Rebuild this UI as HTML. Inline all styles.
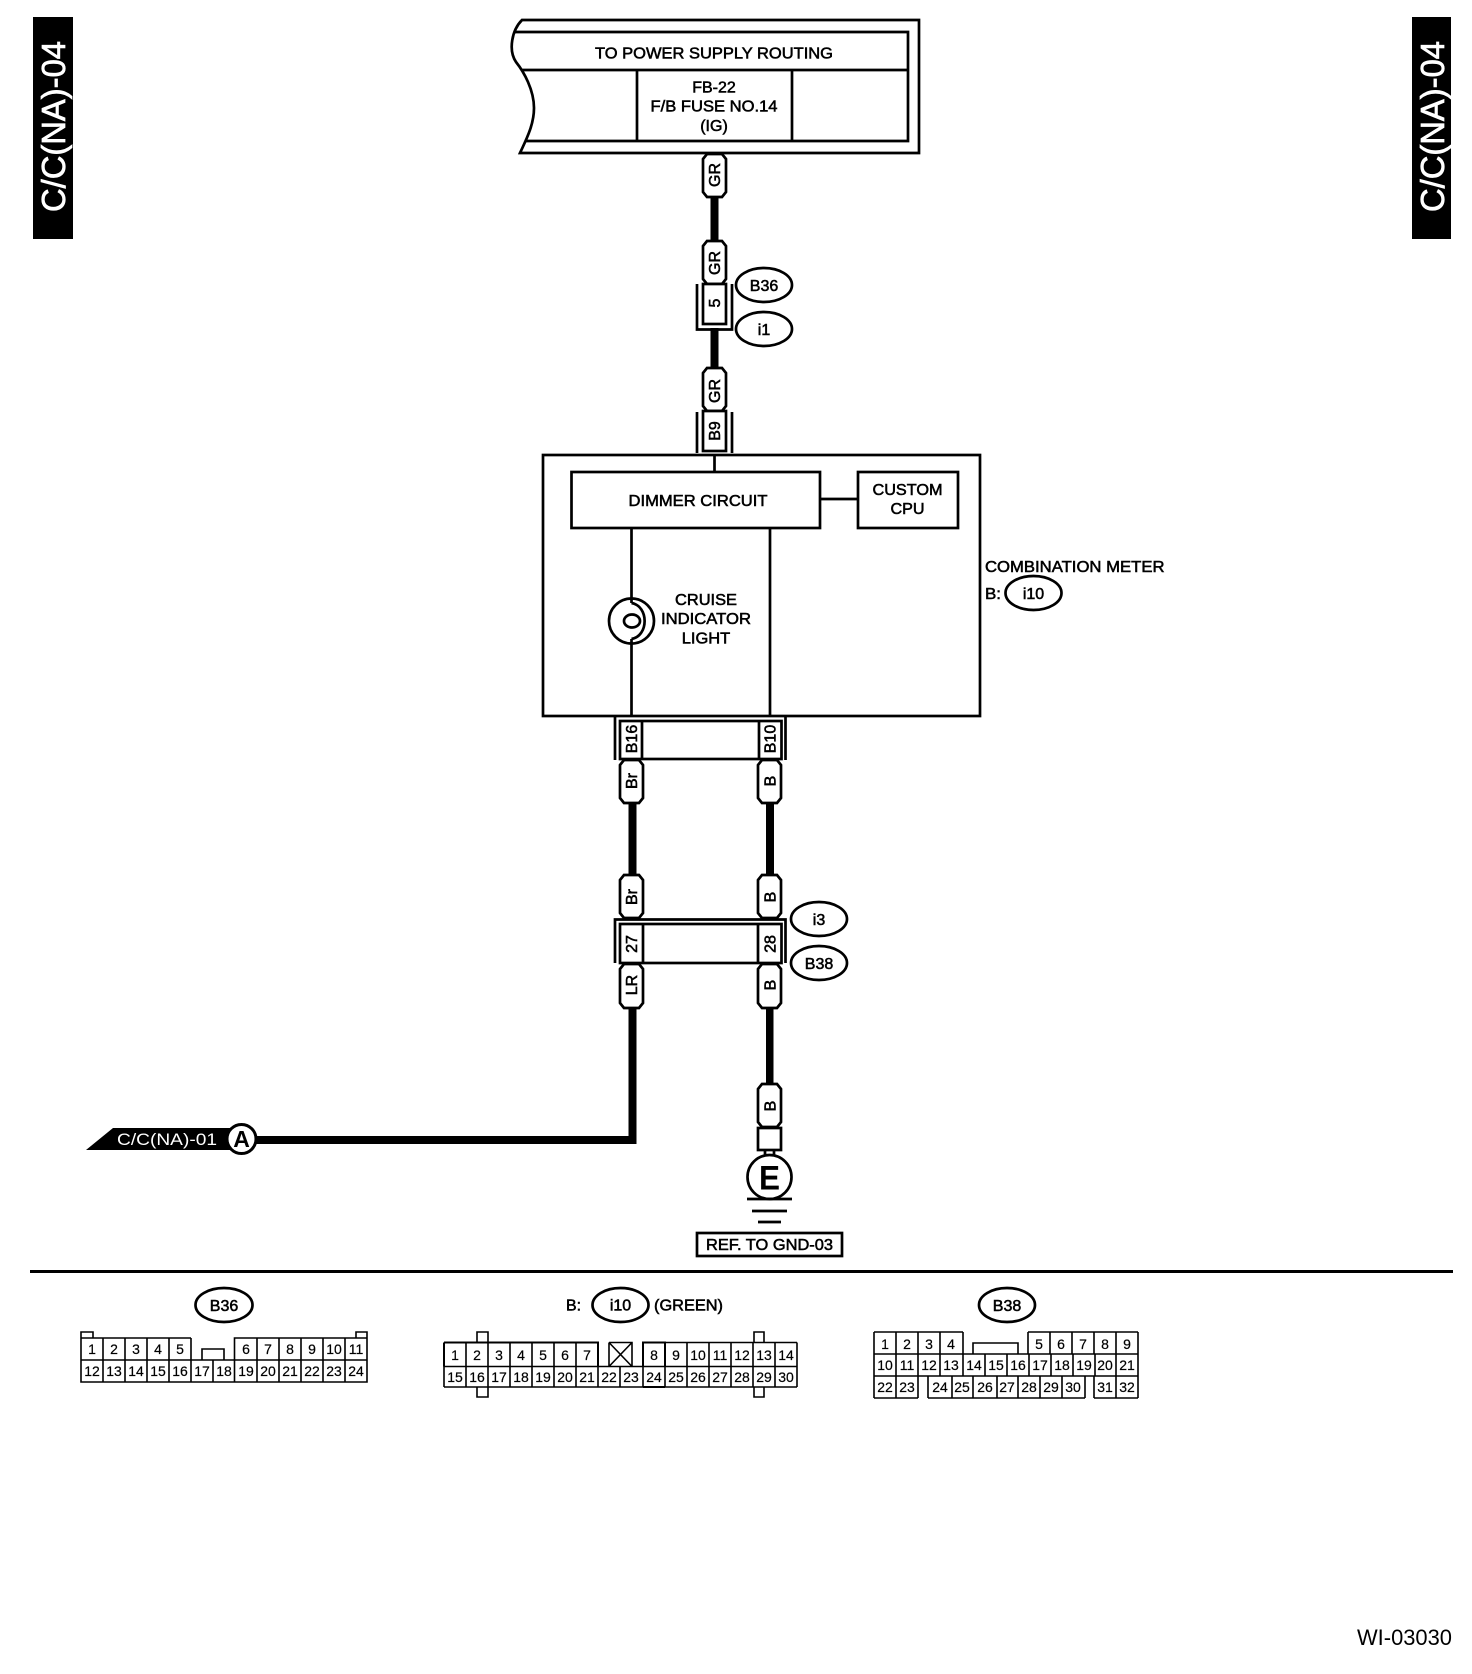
<!DOCTYPE html>
<html lang="en">
<head>
<meta charset="utf-8">
<title>C/C(NA)-04 wiring diagram</title>
<style>
html,body{margin:0;padding:0;background:#fff}
svg{display:block}
text{font-family:"Liberation Sans",sans-serif;fill:#000}
.l{font-size:16px;text-anchor:middle;stroke:#000;stroke-width:.55}
.n{font-size:14px;text-anchor:middle;stroke:#000;stroke-width:.2}
.s{fill:#fff;stroke:#000;stroke-width:2.7}
.o{fill:none;stroke:#000;stroke-width:2.7}
.g{fill:none;stroke:#000;stroke-width:1.6}
</style>
</head>
<body>
<svg xmlns="http://www.w3.org/2000/svg" width="1472" height="1674" viewBox="0 0 1472 1674">
<rect width="1472" height="1674" fill="#fff"/>

<!-- side tabs -->
<rect x="33" y="17" width="40" height="222" fill="#000"/>
<text transform="translate(65,212) rotate(-90)" textLength="171" lengthAdjust="spacingAndGlyphs" style="font-size:33px;fill:#fff;stroke:#fff;stroke-width:.7">C/C(NA)-04</text>
<rect x="1412" y="17" width="39" height="222" fill="#000"/>
<text transform="translate(1444,212) rotate(-90)" textLength="171" lengthAdjust="spacingAndGlyphs" style="font-size:33px;fill:#fff;stroke:#fff;stroke-width:.7">C/C(NA)-04</text>

<!-- power supply box -->
<path class="o" d="M919 20 L522 20 C512 30 508 50 516 62 C524 72 534 90 534 108 C534 125 526 140 520 153 L919 153 Z" stroke-width="3"/>
<path class="o" d="M514 32 H908 V141 H526 M522 70 H908 M637 70 V141 M792 70 V141"/>
<text class="l" x="714" y="58.500" textLength="238" lengthAdjust="spacingAndGlyphs">TO POWER SUPPLY ROUTING</text>
<text class="l" x="714" y="92.500">FB-22</text>
<text class="l" x="714" y="111.500" textLength="127" lengthAdjust="spacingAndGlyphs">F/B FUSE NO.14</text>
<text class="l" x="714" y="131">(IG)</text>

<!-- upper wires -->
<rect x="710.500" y="195" width="8" height="48" fill="#000"/>
<rect x="710.500" y="328" width="8" height="41" fill="#000"/>
<path class="s" d="M707 154 H722 L726 159 V192 L722 197 H707 L703 192 V159 Z"/>
<text class="l" transform="translate(720,175) rotate(-90)">GR</text>
<path class="s" d="M707 241 H722 L726 246 V279 L722 284 H707 L703 279 V246 Z"/>
<text class="l" transform="translate(720,263) rotate(-90)">GR</text>
<rect class="s" x="703" y="284" width="23" height="40"/>
<path class="o" d="M697 284 V329.500 H732 V284"/>
<text class="l" transform="translate(720,303) rotate(-90)">5</text>
<path class="s" d="M707 368 H722 L726 373 V406 L722 411 H707 L703 406 V373 Z"/>
<text class="l" transform="translate(720,391) rotate(-90)">GR</text>
<rect class="s" x="703" y="411" width="23" height="40"/>
<path class="o" d="M697 412 V453 M732 412 V453"/>
<text class="l" transform="translate(720,431) rotate(-90)">B9</text>
<ellipse class="o" cx="764" cy="285" rx="28" ry="17"/>
<text class="l" x="764" y="291">B36</text>
<ellipse class="o" cx="764" cy="329" rx="28" ry="17"/>
<text class="l" x="764" y="335">i1</text>

<!-- combination meter -->
<rect class="o" x="543" y="455" width="437" height="261"/>
<path class="o" d="M714.500 455 V472 M820 499 H858 M631.500 528 V603 M631.500 639 V716 M770 528 V716"/>
<rect class="o" x="571.500" y="472" width="248.500" height="56"/>
<rect class="o" x="858" y="472" width="100" height="56"/>
<text class="l" x="698" y="506" textLength="139" lengthAdjust="spacingAndGlyphs">DIMMER CIRCUIT</text>
<text class="l" x="907.500" y="495" textLength="70" lengthAdjust="spacingAndGlyphs">CUSTOM</text>
<text class="l" x="907.500" y="514" textLength="34" lengthAdjust="spacingAndGlyphs">CPU</text>
<text class="l" x="706" y="605" textLength="62" lengthAdjust="spacingAndGlyphs">CRUISE</text>
<text class="l" x="706" y="624" textLength="90" lengthAdjust="spacingAndGlyphs">INDICATOR</text>
<text class="l" x="706" y="643.500" textLength="48.500" lengthAdjust="spacingAndGlyphs">LIGHT</text>
<circle class="o" cx="631.500" cy="621" r="22.500"/>
<path class="o" d="M631.500 603 C649 606 649 636 631.500 639"/>
<ellipse class="o" cx="632" cy="621" rx="8" ry="6.500"/>
<text class="l" x="985" y="572" style="text-anchor:start" textLength="179.500" lengthAdjust="spacingAndGlyphs">COMBINATION METER</text>
<text class="l" x="985" y="599" style="text-anchor:start" textLength="16" lengthAdjust="spacingAndGlyphs">B:</text>
<ellipse class="o" cx="1033.500" cy="593" rx="28" ry="17"/>
<text class="l" x="1033.500" y="599">i10</text>

<!-- B16 / B10 connector -->
<path class="o" d="M615 717 V760 M785.500 717 V760"/>
<rect class="o" x="620" y="721" width="161.500" height="38"/>
<path class="o" d="M642 721 V759 M759 721 V759"/>
<text class="l" transform="translate(637,739) rotate(-90)">B16</text>
<text class="l" transform="translate(775.500,739) rotate(-90)">B10</text>

<!-- middle wires -->
<rect x="628.500" y="801" width="8" height="76" fill="#000"/>
<rect x="766" y="801" width="8" height="76" fill="#000"/>
<path class="s" d="M624 760 H639 L643 765 V798 L639 803 H624 L620 798 V765 Z"/>
<text class="l" transform="translate(637,781) rotate(-90)">Br</text>
<path class="s" d="M762 760 H777 L781 765 V798 L777 803 H762 L758 798 V765 Z"/>
<text class="l" transform="translate(775.500,781) rotate(-90)">B</text>
<path class="s" d="M624 875 H639 L643 880 V913 L639 918 H624 L620 913 V880 Z"/>
<text class="l" transform="translate(637,897) rotate(-90)">Br</text>
<path class="s" d="M762 875 H777 L781 880 V913 L777 918 H762 L758 913 V880 Z"/>
<text class="l" transform="translate(775.500,897) rotate(-90)">B</text>

<!-- 27 / 28 connector -->
<path class="o" d="M615 963 V919.500 H785.500 V963"/>
<rect class="o" x="620" y="924" width="161.500" height="39"/>
<path class="o" d="M643 924 V963 M758 924 V963"/>
<text class="l" transform="translate(637,944) rotate(-90)">27</text>
<text class="l" transform="translate(775.500,944) rotate(-90)">28</text>
<ellipse class="o" cx="819" cy="919" rx="28" ry="17"/>
<text class="l" x="819" y="925">i3</text>
<ellipse class="o" cx="819" cy="963" rx="28" ry="17"/>
<text class="l" x="819" y="969">B38</text>

<!-- lower wires -->
<path d="M628.500 1006 H636.500 V1144 H255 V1136 H628.500 Z" fill="#000"/>
<rect x="766" y="1006" width="7.500" height="80" fill="#000"/>
<path class="s" d="M624 964 H639 L643 969 V1003 L639 1008 H624 L620 1003 V969 Z"/>
<text class="l" transform="translate(637,985) rotate(-90)">LR</text>
<path class="s" d="M762 964 H777 L781 969 V1003 L777 1008 H762 L758 1003 V969 Z"/>
<text class="l" transform="translate(775.500,985) rotate(-90)">B</text>
<path class="s" d="M762 1084 H777 L781 1089 V1122 L777 1127 H762 L758 1122 V1089 Z"/>
<text class="l" transform="translate(775.500,1106) rotate(-90)">B</text>

<!-- ground -->
<rect class="s" x="758" y="1128" width="23" height="22"/>
<path class="o" d="M765 1150 V1157 M774 1150 V1157"/>
<circle class="s" cx="769.500" cy="1177" r="22"/>
<text x="769.500" y="1189.500" textLength="21" lengthAdjust="spacingAndGlyphs" style="font-size:34px;font-weight:bold;text-anchor:middle">E</text>
<path class="o" d="M747 1199 H792 M752 1211 H787 M758 1222 H781"/>
<rect class="o" x="697" y="1233" width="145" height="23"/>
<text class="l" x="769.500" y="1250" textLength="127" lengthAdjust="spacingAndGlyphs">REF. TO GND-03</text>

<!-- off-page reference -->
<path d="M86 1150 L113 1128 H232 V1150 Z" fill="#000"/>
<text x="167" y="1145" textLength="100" lengthAdjust="spacingAndGlyphs" style="font-size:17px;fill:#fff;text-anchor:middle">C/C(NA)-01</text>
<circle cx="241.500" cy="1139" r="14.500" fill="#fff" stroke="#000" stroke-width="3"/>
<text x="241.500" y="1147" style="font-size:23px;font-weight:bold;text-anchor:middle">A</text>

<!-- divider -->
<rect x="30" y="1270" width="1423" height="3" fill="#000"/>

<!-- B36 connector -->
<ellipse class="o" cx="224" cy="1305" rx="28.500" ry="17"/>
<text class="l" x="224" y="1311">B36</text>
<path class="g" d="M81 1338 V1382 H367 V1338 H234.500 V1382 M191 1338 H81 M191 1338 V1382 M81 1360 H367 M81 1338 V1332 H93 V1338 M356 1338 V1332 H367 V1338 M103 1338 V1382 M125 1338 V1382 M147 1338 V1382 M169 1338 V1382 M213 1360 V1382 M257 1338 V1382 M279 1338 V1382 M301 1338 V1382 M323 1338 V1382 M345 1338 V1382 M202 1360 V1349 H224 V1360"/>
<text class="n" x="92" y="1354">1</text><text class="n" x="114" y="1354">2</text><text class="n" x="136" y="1354">3</text><text class="n" x="158" y="1354">4</text><text class="n" x="180" y="1354">5</text>
<text class="n" x="246" y="1354">6</text><text class="n" x="268" y="1354">7</text><text class="n" x="290" y="1354">8</text><text class="n" x="312" y="1354">9</text><text class="n" x="334" y="1354">10</text><text class="n" x="356" y="1354">11</text>
<text class="n" x="92" y="1376">12</text><text class="n" x="114" y="1376">13</text><text class="n" x="136" y="1376">14</text><text class="n" x="158" y="1376">15</text><text class="n" x="180" y="1376">16</text><text class="n" x="202" y="1376">17</text><text class="n" x="224" y="1376">18</text><text class="n" x="246" y="1376">19</text><text class="n" x="268" y="1376">20</text><text class="n" x="290" y="1376">21</text><text class="n" x="312" y="1376">22</text><text class="n" x="334" y="1376">23</text><text class="n" x="356" y="1376">24</text>

<!-- i10 connector -->
<text class="l" x="566" y="1310.500" style="text-anchor:start" textLength="15" lengthAdjust="spacingAndGlyphs">B:</text>
<ellipse class="o" cx="620.500" cy="1305" rx="28" ry="17"/>
<text class="l" x="620.500" y="1310.500">i10</text>
<text class="l" x="654" y="1310.500" style="text-anchor:start" textLength="69" lengthAdjust="spacingAndGlyphs">(GREEN)</text>
<path class="g" d="M444 1342.500 H598 M643 1342.500 H797 M444 1366.500 H797 M444 1387 H797 M444 1342.500 V1387 M797 1342.500 V1387 M466 1342.500 V1387 M488 1342.500 V1387 M510 1342.500 V1387 M532 1342.500 V1387 M554 1342.500 V1387 M576 1342.500 V1387 M598 1342.500 V1387 M620 1366.500 V1387 M643 1342.500 V1387 M665 1342.500 V1387 M687 1342.500 V1387 M709 1342.500 V1387 M731 1342.500 V1387 M753 1342.500 V1387 M775 1342.500 V1387 M477 1342.500 V1332 H488 V1342.500 M477 1387 V1397 H488 V1387 M754 1342.500 V1332 H764 V1342.500 M754 1387 V1397 H764 V1387 M609 1342.500 H632 V1366.500 M609 1342.500 V1366.500 M609 1342.500 L632 1366.500 M632 1342.500 L609 1366.500"/>
<path d="M444 1342.500 H598 V1366.500 M643 1366.500 V1342.500 H665 V1366.500 M444 1342.500 V1366.500 M643 1387 H665" fill="none" stroke="#000" stroke-width="2"/>
<text class="n" x="455" y="1360">1</text><text class="n" x="477" y="1360">2</text><text class="n" x="499" y="1360">3</text><text class="n" x="521" y="1360">4</text><text class="n" x="543" y="1360">5</text><text class="n" x="565" y="1360">6</text><text class="n" x="587" y="1360">7</text>
<text class="n" x="654" y="1360">8</text><text class="n" x="676" y="1360">9</text><text class="n" x="698" y="1360">10</text><text class="n" x="720" y="1360">11</text><text class="n" x="742" y="1360">12</text><text class="n" x="764" y="1360">13</text><text class="n" x="786" y="1360">14</text>
<text class="n" x="455" y="1382">15</text><text class="n" x="477" y="1382">16</text><text class="n" x="499" y="1382">17</text><text class="n" x="521" y="1382">18</text><text class="n" x="543" y="1382">19</text><text class="n" x="565" y="1382">20</text><text class="n" x="587" y="1382">21</text><text class="n" x="609" y="1382">22</text><text class="n" x="631" y="1382">23</text><text class="n" x="654" y="1382">24</text><text class="n" x="676" y="1382">25</text><text class="n" x="698" y="1382">26</text><text class="n" x="720" y="1382">27</text><text class="n" x="742" y="1382">28</text><text class="n" x="764" y="1382">29</text><text class="n" x="786" y="1382">30</text>

<!-- B38 connector -->
<ellipse class="o" cx="1007" cy="1305" rx="28" ry="17"/>
<text class="l" x="1007" y="1311">B38</text>
<path class="g" d="M874 1332 H963 M1028 1332 H1138 M874 1354 H1138 M874 1376 H1138 M874 1398 H918 M928 1398 H1085 M1094 1398 H1138 M874 1332 V1398 M1138 1332 V1398 M896 1332 V1354 M918 1332 V1354 M940 1332 V1354 M963 1332 V1376 M1028 1332 V1354 M1050 1332 V1354 M1072 1332 V1354 M1094 1332 V1354 M1116 1332 V1354 M896 1354 V1376 M918 1354 V1376 M940 1354 V1376 M985 1354 V1376 M1007 1354 V1376 M1029 1354 V1376 M1051 1354 V1376 M1073 1354 V1376 M1095 1354 V1376 M1116 1354 V1376 M896 1376 V1398 M918 1376 V1398 M928 1376 V1398 M952 1376 V1398 M973 1376 V1398 M997 1376 V1398 M1018 1376 V1398 M1040 1376 V1398 M1062 1376 V1398 M1085 1376 V1398 M1094 1376 V1398 M1116 1376 V1398 M973 1354 V1343 H1018 V1354"/>
<text class="n" x="885" y="1349">1</text><text class="n" x="907" y="1349">2</text><text class="n" x="929" y="1349">3</text><text class="n" x="951" y="1349">4</text>
<text class="n" x="1039" y="1349">5</text><text class="n" x="1061" y="1349">6</text><text class="n" x="1083" y="1349">7</text><text class="n" x="1105" y="1349">8</text><text class="n" x="1127" y="1349">9</text>
<text class="n" x="885" y="1370">10</text><text class="n" x="907" y="1370">11</text><text class="n" x="929" y="1370">12</text><text class="n" x="951" y="1370">13</text><text class="n" x="974" y="1370">14</text><text class="n" x="996" y="1370">15</text><text class="n" x="1018" y="1370">16</text><text class="n" x="1040" y="1370">17</text><text class="n" x="1062" y="1370">18</text><text class="n" x="1084" y="1370">19</text><text class="n" x="1105" y="1370">20</text><text class="n" x="1127" y="1370">21</text>
<text class="n" x="885" y="1392">22</text><text class="n" x="907" y="1392">23</text><text class="n" x="940" y="1392">24</text><text class="n" x="962" y="1392">25</text><text class="n" x="985" y="1392">26</text><text class="n" x="1007" y="1392">27</text><text class="n" x="1029" y="1392">28</text><text class="n" x="1051" y="1392">29</text><text class="n" x="1073" y="1392">30</text><text class="n" x="1105" y="1392">31</text><text class="n" x="1127" y="1392">32</text>

<!-- figure id -->
<text x="1357" y="1645" textLength="95" lengthAdjust="spacingAndGlyphs" style="font-size:22px">WI-03030</text>
</svg>
</body>
</html>
